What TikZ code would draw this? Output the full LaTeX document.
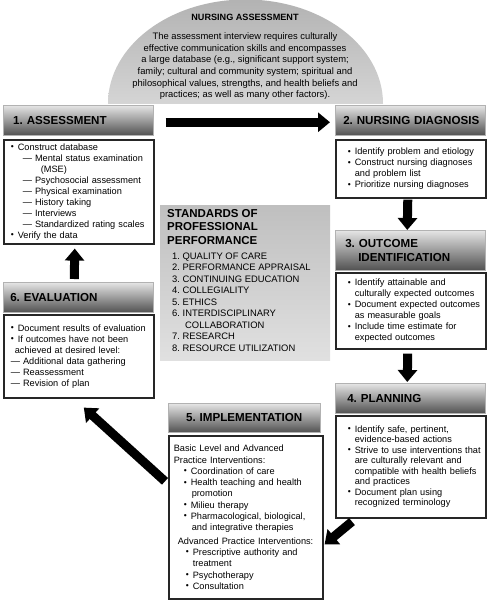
\documentclass[tikz,border=0pt]{standalone}
\usepackage{fontspec}
\setmainfont{Liberation Sans}
\usetikzlibrary{arrows.meta,calc}
\newcommand\bl{\makebox[7pt][l]{\raisebox{0.6pt}{\fontsize{8.5}{8.5}\selectfont •}}}
\frenchspacing
\hyphenpenalty=10000
\exhyphenpenalty=10000
\begin{document}
\begin{tikzpicture}[x=1pt,y=-1pt,
  hdr/.style={draw=black!30, line width=0.5pt, top color=black!10, bottom color=black!68,
    anchor=north west, minimum width=150pt, minimum height=30pt, inner xsep=5pt, inner ysep=0pt,
    text width=140pt, align=left, font=\fontsize{11.6}{14}\selectfont\bfseries},
  bodybox/.style={draw=black!85, line width=1.6pt, fill=white, anchor=north west,
    minimum width=150pt, inner xsep=3pt, inner ysep=0pt, text width=144pt, align=left,
    font=\fontsize{9.2}{11}\selectfont},
  bigarrow/.style={draw=black, line width=9pt, -{Triangle[length=12pt,width=19pt]}},
  plain/.style={inner sep=0pt, align=left}
]
\useasboundingbox (0,0) rectangle (488,600);

% dome
\begin{scope}
  \clip (108,0) rectangle (383,103.5);
  \shade[top color=black!30, bottom color=black!3] (245.5,103.5) ellipse[x radius=137.5, y radius=104];
\end{scope}
\node[font=\fontsize{9.1}{11}\selectfont\bfseries] (dtitle) at (245,17) {NURSING ASSESSMENT};
\node[plain, align=center, anchor=north, font=\fontsize{9.4}{11.6}\selectfont] (dtext) at (245,32.7)
  {The assessment interview requires culturally\\
   effective communication skills and encompasses\\
   a large database (e.g., significant support system;\\
   family; cultural and community system; spiritual and\\
   philosophical values, strengths, and health beliefs and\\
   practices; as well as many other factors).};

% 1. Assessment
\node[hdr] (h1) at (3,105) {\mbox{\hspace*{5pt}1. ASSESSMENT}};
\node[bodybox, minimum height=104pt] (b1) at (3,139) {%
\hspace*{4pt}\bl Construct database\\
\hspace*{16pt}— Mental status examination\\
\hspace*{34pt}(MSE)\\
\hspace*{16pt}— Psychosocial assessment\\
\hspace*{16pt}— Physical examination\\
\hspace*{16pt}— History taking\\
\hspace*{16pt}— Interviews\\
\hspace*{16pt}— Standardized rating scales\\
\hspace*{4pt}\bl Verify the data};

% 2. Nursing diagnosis
\node[hdr] (h2) at (335,105) {\mbox{\hspace*{3pt}2. NURSING DIAGNOSIS}};
\node[bodybox, minimum height=58pt] (b2) at (335,139) {%
\hspace*{9pt}\bl Identify problem and etiology\\
\hspace*{9pt}\bl Construct nursing diagnoses\\
\hspace*{16pt}and problem list\\
\hspace*{9pt}\bl Prioritize nursing diagnoses};

% 3. Outcome identification
\node[hdr, minimum height=40pt] (h3) at (335,230) {\hspace*{5pt}3. OUTCOME\\\hspace*{18pt}IDENTIFICATION};
\node[bodybox, minimum height=76pt] (b3) at (335,272) {%
\hspace*{9pt}\bl Identify attainable and\\
\hspace*{16pt}culturally expected outcomes\\
\hspace*{9pt}\bl Document expected outcomes\\
\hspace*{16pt}as measurable goals\\
\hspace*{9pt}\bl Include time estimate for\\
\hspace*{16pt}expected outcomes};

% 4. Planning
\node[hdr] (h4) at (335,383) {\mbox{\hspace*{7pt}4. PLANNING}};
\node[bodybox, minimum height=102pt, font=\fontsize{9.2}{10.5}\selectfont] (b4) at (335,415) {%
\hspace*{9pt}\bl Identify safe, pertinent,\\
\hspace*{16pt}evidence-based actions\\
\hspace*{9pt}\bl Strive to use interventions that\\
\hspace*{16pt}are culturally relevant and\\
\hspace*{16pt}compatible with health beliefs\\
\hspace*{16pt}and practices\\
\hspace*{9pt}\bl Document plan using\\
\hspace*{16pt}recognized terminology};

% 5. Implementation
\node[hdr, minimum width=152pt, minimum height=29pt, text width=142pt, align=center] (h5) at (168,403) {5. IMPLEMENTATION};
\node[bodybox, minimum width=154pt, text width=148pt, minimum height=163pt, font=\fontsize{9.2}{11.3}\selectfont] (b5) at (168,435) {%
\hspace*{2pt}Basic Level and Advanced\\
\hspace*{2pt}Practice Interventions:\\
\hspace*{12pt}\bl Coordination of care\\
\hspace*{12pt}\bl Health teaching and health\\
\hspace*{20pt}promotion\\
\hspace*{12pt}\bl Milieu therapy\\
\hspace*{12pt}\bl Pharmacological, biological,\\
\hspace*{20pt}and integrative therapies\\[2pt]
\hspace*{6pt}Advanced Practice Interventions:\\
\hspace*{14pt}\bl Prescriptive authority and\\
\hspace*{21pt}treatment\\
\hspace*{14pt}\bl Psychotherapy\\
\hspace*{14pt}\bl Consultation};

% 6. Evaluation
\node[hdr] (h6) at (3,282) {\mbox{\hspace*{2pt}6. EVALUATION}};
\node[bodybox, minimum height=83pt] (b6) at (3,314) {%
\hspace*{4pt}\bl Document results of evaluation\\
\hspace*{4pt}\bl If outcomes have not been\\
\hspace*{8pt}achieved at desired level:\\
\hspace*{4pt}— Additional data gathering\\
\hspace*{4pt}— Reassessment\\
\hspace*{4pt}— Revision of plan};

% Standards
\node[anchor=north west, minimum width=170pt, minimum height=155pt, inner sep=0pt,
  top color=black!25, bottom color=black!12] (std) at (160,205) {};
\node[plain, anchor=north west, font=\fontsize{11.5}{13.5}\selectfont\bfseries] (stdtitle) at (167,208.9)
  {STANDARDS OF\\PROFESSIONAL\\PERFORMANCE};
\node[plain, anchor=north west, font=\fontsize{9.4}{11.5}\selectfont] (stdlist) at (172,252.6)
  {1. QUALITY OF CARE\\
   2. PERFORMANCE APPRAISAL\\
   3. CONTINUING EDUCATION\\
   4. COLLEGIALITY\\
   5. ETHICS\\
   6. INTERDISCIPLINARY\\
   \hspace*{13pt}COLLABORATION\\
   7. RESEARCH\\
   8. RESOURCE UTILIZATION};

% arrows
\draw[bigarrow, shorten <=12pt, shorten >=5pt] ([yshift=-2pt]h1.east) -- ([yshift=-2pt]h2.west);
\draw[bigarrow, shorten <=1pt] ([xshift=-3pt]b2.south) -- ([xshift=-3pt]h3.north);
\draw[bigarrow, shorten <=4pt, shorten >=1pt] ([xshift=-3pt]b3.south) -- ([xshift=-3pt]h4.north);
\coordinate (a45s) at ($(b4.south west)+(17,3)$);
\coordinate (a45e) at ($(b5.east)+(1,27)$);
\draw[bigarrow] (a45s) -- (a45e);
\coordinate (a56s) at ($(b5.west)+(-3,-36)$);
\coordinate (a56e) at ($(b6.south)+(5,9)$);
\draw[bigarrow] (a56s) -- (a56e);
\draw[bigarrow, shorten <=3pt, shorten >=4pt] ([xshift=-4pt]h6.north) -- ([xshift=-4pt]b1.south);
\end{tikzpicture}
\end{document}
